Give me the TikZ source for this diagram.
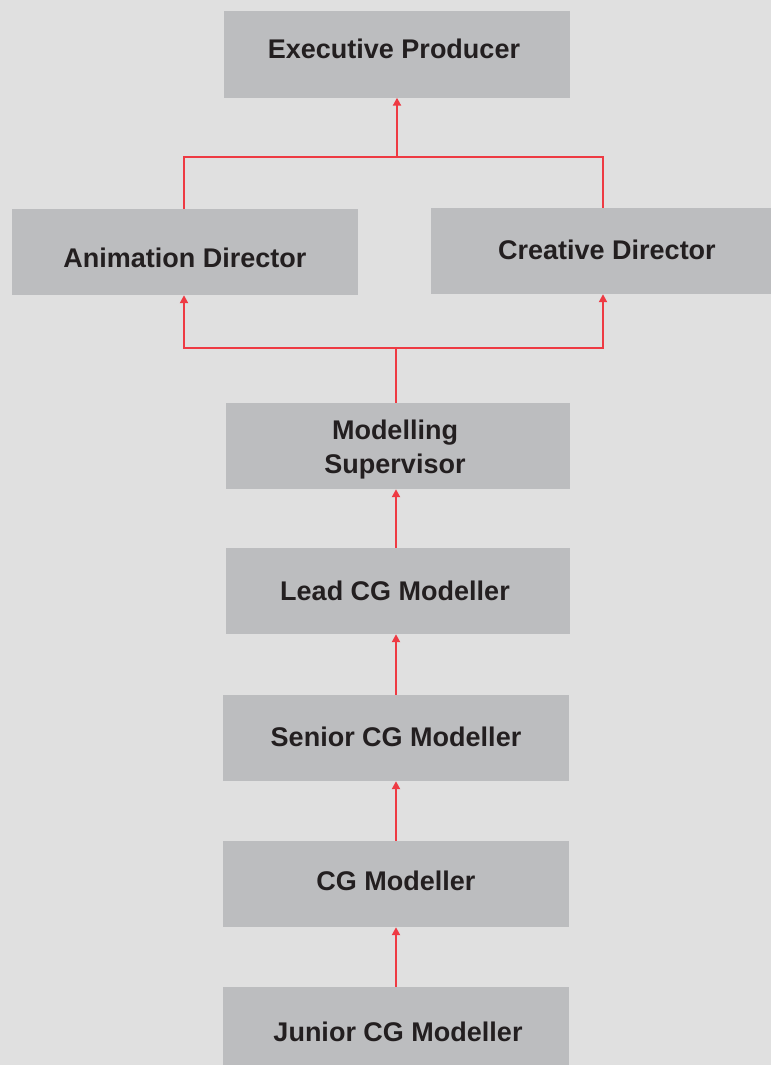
\documentclass[tikz,border=0pt]{standalone}
\usepackage{fontspec}
\setmainfont{Liberation Sans}
\usetikzlibrary{arrows.meta}
\definecolor{bg}{HTML}{E0E0E0}
\definecolor{boxc}{HTML}{BCBDBF}
\definecolor{linec}{HTML}{EE3A43}
\definecolor{txt}{HTML}{231F20}
\tikzset{
  box/.style={fill=boxc, draw=none, inner sep=0pt, minimum width=346pt, minimum height=86pt},
  lbl/.style={text=txt, font=\fontsize{27}{34}\selectfont\bfseries, align=center, inner sep=0pt},
  conn/.style={draw=linec, line width=2.3pt},
  arr/.style={conn, -{Triangle[length=8pt,width=8pt]}}
}
\begin{document}
\begin{tikzpicture}[x=1pt,y=-1pt]
\useasboundingbox (0,0) rectangle (771,1065);
\fill[bg] (0,0) rectangle (771,1065);
\begin{scope}
\clip (0,0) rectangle (771,1065);
\node[box] (ep) at (397,54.5) {};
\node[box] (ad) at (185,252) {};
\node[box, minimum width=340pt] (cd) at (601,251) {};
\node[box, minimum width=344pt] (ms) at (398,446) {};
\node[box, minimum width=344pt] (lcm) at (398,591) {};
\node[box] (scm) at (396,738) {};
\node[box] (cgm) at (396,884) {};
\node[box] (jcm) at (396,1030) {};
\end{scope}
\node[lbl] (tep) at (394,49) {Executive Producer};
\node[lbl] (tad) at (185,258) {Animation Director};
\node[lbl] (tcd) at (607,250) {Creative Director};
\node[lbl] (tms) at (395,449.5) {Modelling\\Supervisor};
\node[lbl] (tlcm) at (395,591) {Lead CG Modeller};
\node[lbl] (tscm) at (396,737) {Senior CG Modeller};
\node[lbl] (tcgm) at (396,881) {CG Modeller};
\node[lbl] (tjcm) at (398,1032) {Junior CG Modeller};
\coordinate (j1) at (397,157);
\coordinate (j2) at (396,348);
\draw[conn] ([xshift=-1pt]ad.north) |- (j1) -| ([xshift=2pt]cd.north);
\draw[arr] (j1) -- (ep.south);
\draw[conn] (ms.north -| j2) -- (j2);
\draw[arr] (j2) -| ([xshift=-1pt]ad.south);
\draw[arr] (j2) -| ([xshift=2pt]cd.south);
\draw[arr] (lcm.north -| j2) -- (ms.south -| j2);
\draw[arr] (scm.north) -- (lcm.south -| scm.north);
\draw[arr] (cgm.north) -- (scm.south);
\draw[arr] (jcm.north) -- (cgm.south);
\end{tikzpicture}
\end{document}
